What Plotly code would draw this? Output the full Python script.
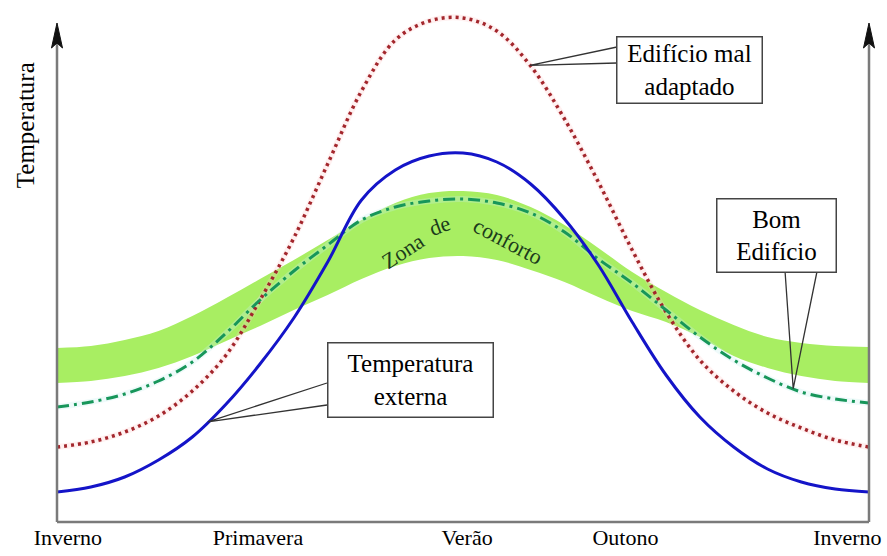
import numpy as np
import plotly.graph_objects as go

# ---------------- data ----------------
months = [0, 0.5, 1, 1.5, 2, 2.5, 3, 3.5, 4, 4.5, 5, 5.5, 6,
          6.5, 7, 7.5, 8, 8.5, 9, 9.5, 10, 10.5, 11, 11.5, 12]

temp_externa = [30, 35, 45, 62, 85, 118, 158, 204, 260, 322, 352, 366, 369,
                360, 338, 303, 257, 200, 147, 105, 75, 53, 40, 33, 30]

edificio_mal = [75, 80, 90, 106, 131, 167, 222, 284, 358, 431, 482, 501, 504,
                491, 456, 403, 340, 272, 210, 162, 131, 109, 94, 82, 75]

bom_edificio = [115, 120, 128, 141, 160, 189, 222, 251, 277, 302, 315, 321, 323,
                319, 309, 290, 263, 239, 212, 185, 162, 144, 130, 123, 119]

conforto_sup = [174, 176, 182, 191, 206, 224, 243, 262, 282, 302, 319, 329, 331,
                327, 315, 297, 274, 250, 230, 212, 197, 185, 179, 176, 175]

conforto_inf = [139, 141, 146, 154, 166, 181, 196, 212, 227, 243, 256, 264, 266,
                262, 252, 240, 225, 211, 200, 185, 166, 154, 146, 141, 139]

estacoes = ["Inverno", "Primavera", "Verão", "Outono", "Inverno"]
estacoes_pos = [0.16, 2.97, 6.06, 8.4, 11.68]

FONT = "Liberation Serif"

fig = go.Figure()

# comfort zone band
fig.add_trace(go.Scatter(x=months, y=conforto_inf, mode="lines",
                         line=dict(width=0, shape="spline", color="#a8ee62"),
                         showlegend=False, hoverinfo="skip"))
fig.add_trace(go.Scatter(x=months, y=conforto_sup, mode="lines", fill="tonexty",
                         fillcolor="#a8ee62",
                         line=dict(width=0, shape="spline", color="#a8ee62"),
                         showlegend=False, hoverinfo="skip"))

# faint halos
fig.add_trace(go.Scatter(x=months, y=edificio_mal, mode="lines",
                         line=dict(width=6, shape="spline", color="rgba(255,200,200,0.25)"),
                         showlegend=False, hoverinfo="skip"))
fig.add_trace(go.Scatter(x=months, y=bom_edificio, mode="lines",
                         line=dict(width=6, shape="spline", color="rgba(200,240,240,0.3)"),
                         showlegend=False, hoverinfo="skip"))

# curves
fig.add_trace(go.Scatter(x=months, y=edificio_mal, mode="lines", name="Edifício mal adaptado",
                         line=dict(width=3.5, shape="spline", color="#a3262c", dash="3px,4px"),
                         showlegend=False))
fig.add_trace(go.Scatter(x=months, y=bom_edificio, mode="lines", name="Bom Edifício",
                         line=dict(width=3, shape="spline", color="#17965a",
                                   dash="12px,5px,3px,5px"),
                         showlegend=False))
fig.add_trace(go.Scatter(x=months, y=temp_externa, mode="lines", name="Temperatura externa",
                         line=dict(width=3, shape="spline", color="#1414c8"),
                         showlegend=False))

# ---------------- axes drawn as shapes ----------------
AX = "#7a7a7a"
tip = 0.9746
shapes = [
    dict(type="line", xref="paper", yref="paper", x0=0, x1=1, y0=0, y1=0,
         line=dict(color=AX, width=2.5)),
    dict(type="line", xref="paper", yref="paper", x0=0, x1=0, y0=0, y1=tip - 0.03,
         line=dict(color=AX, width=2.5)),
    dict(type="line", xref="paper", yref="paper", x0=1, x1=1, y0=0, y1=tip - 0.03,
         line=dict(color=AX, width=2.5)),
]
for xa in (0, 1):
    shapes.append(dict(type="path", xref="paper", yref="paper",
                       xsizemode="pixel", ysizemode="pixel", xanchor=xa, yanchor=tip,
                       path="M0,0 L-5.5,-25 L0,-20 L5.5,-25 Z",
                       fillcolor="#111111", line=dict(color="#111111", width=1)))

# callout wedges (point to curves)
def wedge(x1, y1, x2, y2, xt, yt):
    return dict(type="path", xref="x", yref="y",
                path=f"M{x1},{y1} L{xt},{yt} L{x2},{y2}",
                line=dict(color="#333333", width=1.3))

t1x = 6.99
shapes.append(wedge(8.276, 475, 8.276, 459, t1x, float(np.interp(t1x, months, edificio_mal))))
t2x = 10.88
shapes.append(wedge(10.76, 250, 11.23, 250, t2x, float(np.interp(t2x, months, bom_edificio))))
t3x = 2.23
shapes.append(wedge(3.99, 139, 3.99, 117, t3x, float(np.interp(t3x, months, temp_externa))))

box_font = dict(family=FONT, size=25, color="black")
zone_font = dict(family=FONT, size=22, color="#1b3b1b")
annotations = [
    dict(x=9.354, y=452.5, xref="x", yref="y", text="Edifício mal<br>adaptado",
         showarrow=False, bgcolor="white", bordercolor="#444444", borderwidth=1.5,
         borderpad=1, width=142, height=63, font=box_font),
    dict(x=10.64, y=287, xref="x", yref="y", text="Bom<br>Edifício",
         showarrow=False, bgcolor="white", bordercolor="#444444", borderwidth=1.5,
         borderpad=1, width=116, height=70, font=box_font),
    dict(x=5.217, y=142.5, xref="x", yref="y", text="Temperatura<br>externa",
         showarrow=False, bgcolor="white", bordercolor="#444444", borderwidth=1.5,
         borderpad=1, width=162, height=71, font=box_font),
    dict(x=-0.0394, y=0.775, xref="paper", yref="paper", text="Temperatura",
         textangle=-90, showarrow=False, xanchor="center", yanchor="middle",
         font=dict(family=FONT, size=25, color="black")),
    dict(x=5.10, y=271, xref="x", yref="y", text="Zona", textangle=-33,
         showarrow=False, font=zone_font),
    dict(x=5.66, y=297, xref="x", yref="y", text="de", textangle=-20,
         showarrow=False, font=zone_font),
    dict(x=6.67, y=281, xref="x", yref="y", text="conforto", textangle=28,
         showarrow=False, font=zone_font),
]

fig.update_layout(
    width=887, height=556,
    margin=dict(l=57, r=18, t=10, b=34, pad=0, autoexpand=False),
    paper_bgcolor="white", plot_bgcolor="white",
    shapes=shapes, annotations=annotations,
    xaxis=dict(range=[0, 12], showgrid=False, zeroline=False, showline=False,
               automargin=False,
               tickvals=estacoes_pos, ticktext=estacoes, ticks="",
               tickfont=dict(family=FONT, size=22, color="black")),
    yaxis=dict(range=[0, 512], visible=False, automargin=False),
)

fig.write_html("out.html", config={"displayModeBar": False},
               post_script="document.body.style.margin='0';document.body.style.overflow='hidden';")
